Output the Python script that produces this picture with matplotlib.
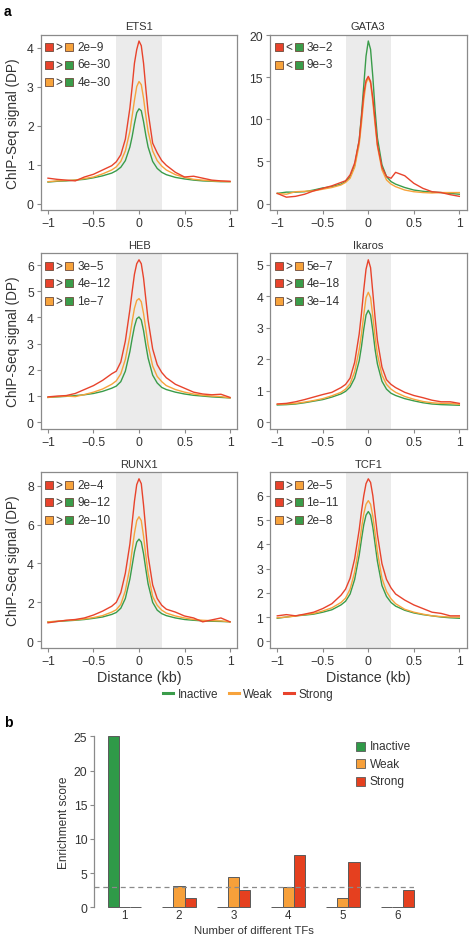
import matplotlib
matplotlib.use("Agg")
import matplotlib.pyplot as plt
from matplotlib.patches import Rectangle
from matplotlib.lines import Line2D
import numpy as np

plt.rcParams['font.family'] = ['Liberation Sans', 'DejaVu Sans']

W, H = 469, 937

# ---------------- data: panel a ----------------
distance = [-1, -0.9, -0.8, -0.7, -0.6, -0.5, -0.4, -0.3, -0.25, -0.2, -0.15, -0.1, -0.075, -0.05, -0.025,
            0, 0.025, 0.05, 0.075, 0.1, 0.15, 0.2, 0.25, 0.3, 0.4, 0.5, 0.6, 0.7, 0.8, 0.9, 1]

ets1_inactive = [0.55, 0.57, 0.58, 0.6, 0.62, 0.66, 0.71, 0.78, 0.84, 0.93, 1.1, 1.45, 1.72, 2.05, 2.33,
                 2.43, 2.38, 2.1, 1.75, 1.45, 1.08, 0.9, 0.8, 0.74, 0.67, 0.63, 0.6, 0.58, 0.57, 0.56, 0.56]
ets1_weak = [0.56, 0.58, 0.59, 0.6, 0.64, 0.68, 0.76, 0.86, 0.94, 1.08, 1.35, 1.85, 2.25, 2.65, 3.0,
             3.13, 3.05, 2.7, 2.25, 1.85, 1.35, 1.1, 0.96, 0.86, 0.74, 0.67, 0.62, 0.6, 0.58, 0.57, 0.56]
ets1_strong = [0.65, 0.62, 0.6, 0.58, 0.68, 0.75, 0.86, 0.97, 1.07, 1.25, 1.65, 2.45, 3.0, 3.6, 3.95,
               4.17, 4.05, 3.6, 2.95, 2.35, 1.55, 1.3, 1.1, 0.98, 0.8, 0.68, 0.7, 0.65, 0.6, 0.58, 0.57]

gata3_inactive = [1.2, 1.35, 1.35, 1.4, 1.6, 1.85, 2.0, 2.3, 2.6, 3.2, 4.5, 7.5, 10.5, 14.0, 17.5,
                  19.3, 18.3, 15.0, 11.0, 7.8, 4.6, 3.2, 2.6, 2.3, 1.9, 1.6, 1.45, 1.35, 1.3, 1.2, 1.1]
gata3_weak = [1.2, 1.1, 1.4, 1.45, 1.5, 1.7, 1.9, 2.2, 2.5, 3.0, 4.3, 7.0, 9.5, 12.3, 14.3,
              14.9, 14.3, 12.0, 9.3, 6.8, 4.0, 2.8, 2.3, 2.0, 1.6, 1.4, 1.3, 1.25, 1.3, 1.3, 1.3]
gata3_strong = [1.2, 0.75, 0.85, 1.1, 1.5, 1.8, 2.1, 2.5, 2.7, 3.4, 4.8, 7.5, 10.2, 13.0, 14.6,
                15.1, 14.5, 12.5, 9.8, 7.0, 4.3, 3.2, 3.0, 3.7, 3.3, 2.4, 1.8, 1.4, 1.3, 1.05, 0.85]

heb_inactive = [0.95, 0.97, 0.99, 1.02, 1.05, 1.1, 1.18, 1.3, 1.38, 1.55, 1.95, 2.7, 3.2, 3.65, 3.95,
                4.02, 3.9, 3.5, 2.95, 2.45, 1.8, 1.5, 1.33, 1.25, 1.15, 1.08, 1.03, 1.0, 0.97, 0.95, 0.93]
heb_weak = [0.95, 0.98, 1.0, 0.98, 1.06, 1.15, 1.27, 1.45, 1.58, 1.85, 2.4, 3.3, 3.85, 4.35, 4.65,
            4.72, 4.6, 4.15, 3.55, 2.95, 2.15, 1.75, 1.55, 1.4, 1.25, 1.15, 1.08, 1.03, 1.0, 0.98, 0.93]
heb_strong = [0.97, 1.0, 1.02, 1.1, 1.25, 1.4, 1.6, 1.85, 1.95, 2.3, 3.1, 4.3, 5.0, 5.65, 6.05,
              6.2, 6.05, 5.5, 4.7, 3.9, 2.8, 2.2, 1.9, 1.7, 1.45, 1.3, 1.15, 1.08, 1.05, 1.07, 0.95]

ikaros_inactive = [0.55, 0.56, 0.58, 0.62, 0.67, 0.72, 0.8, 0.9, 0.98, 1.12, 1.4, 1.95, 2.4, 2.95, 3.4,
                   3.55, 3.4, 2.9, 2.3, 1.85, 1.3, 1.05, 0.92, 0.85, 0.75, 0.68, 0.62, 0.58, 0.56, 0.55, 0.54]
ikaros_weak = [0.57, 0.58, 0.6, 0.64, 0.69, 0.75, 0.84, 0.95, 1.05, 1.22, 1.6, 2.3, 2.8, 3.4, 3.95,
               4.12, 3.95, 3.35, 2.7, 2.15, 1.5, 1.2, 1.05, 0.95, 0.82, 0.73, 0.66, 0.62, 0.6, 0.6, 0.57]
ikaros_strong = [0.58, 0.6, 0.65, 0.72, 0.8, 0.88, 0.95, 1.1, 1.2, 1.4, 1.9, 2.8, 3.45, 4.2, 4.85,
                 5.15, 4.9, 4.1, 3.3, 2.6, 1.75, 1.35, 1.2, 1.1, 0.95, 0.85, 0.78, 0.7, 0.65, 0.65, 0.6]

runx1_inactive = [1.0, 1.02, 1.05, 1.08, 1.12, 1.18, 1.25, 1.38, 1.48, 1.7, 2.2, 3.2, 3.9, 4.6, 5.1,
                  5.25, 5.1, 4.5, 3.7, 2.95, 2.0, 1.6, 1.42, 1.32, 1.2, 1.12, 1.08, 1.05, 1.03, 1.02, 1.0]
runx1_weak = [1.0, 1.03, 1.07, 1.1, 1.15, 1.22, 1.32, 1.5, 1.62, 1.9, 2.6, 3.8, 4.7, 5.55, 6.2,
              6.4, 6.2, 5.4, 4.4, 3.5, 2.3, 1.85, 1.6, 1.45, 1.3, 1.2, 1.12, 1.08, 1.06, 1.05, 1.0]
runx1_strong = [0.95, 1.02, 1.08, 1.12, 1.2, 1.35, 1.55, 1.8, 2.0, 2.5, 3.5, 5.0, 6.1, 7.2, 8.05,
                8.35, 8.1, 7.0, 5.7, 4.4, 2.9, 2.2, 1.85, 1.65, 1.5, 1.3, 1.2, 1.0, 1.1, 1.2, 1.0]

tcf1_inactive = [0.95, 1.0, 1.05, 1.08, 1.12, 1.2, 1.3, 1.5, 1.65, 1.95, 2.55, 3.55, 4.2, 4.8, 5.2,
                 5.35, 5.2, 4.7, 4.0, 3.3, 2.3, 1.85, 1.6, 1.45, 1.28, 1.17, 1.1, 1.05, 1.0, 0.97, 0.95]
tcf1_weak = [0.97, 1.0, 1.04, 1.1, 1.15, 1.25, 1.38, 1.6, 1.78, 2.15, 2.85, 3.95, 4.65, 5.25, 5.65,
             5.8, 5.65, 5.15, 4.45, 3.7, 2.6, 2.05, 1.75, 1.55, 1.32, 1.2, 1.12, 1.05, 1.02, 1.0, 1.0]
tcf1_strong = [1.05, 1.1, 1.05, 1.12, 1.2, 1.35, 1.55, 1.9, 2.15, 2.6, 3.4, 4.6, 5.35, 6.0, 6.5,
               6.7, 6.55, 6.0, 5.2, 4.4, 3.2, 2.55, 2.2, 1.95, 1.7, 1.5, 1.35, 1.2, 1.15, 1.05, 1.05]

tf_names = ["ETS1", "GATA3", "HEB", "Ikaros", "RUNX1", "TCF1"]
tf_curves = [
    (ets1_inactive, ets1_weak, ets1_strong),
    (gata3_inactive, gata3_weak, gata3_strong),
    (heb_inactive, heb_weak, heb_strong),
    (ikaros_inactive, ikaros_weak, ikaros_strong),
    (runx1_inactive, runx1_weak, runx1_strong),
    (tcf1_inactive, tcf1_weak, tcf1_strong),
]
tf_yticks = [[0, 1, 2, 3, 4], [0, 5, 10, 15, 20], [0, 1, 2, 3, 4, 5, 6],
             [0, 1, 2, 3, 4, 5], [0, 2, 4, 6, 8], [0, 1, 2, 3, 4, 5, 6]]
# comparisons: (group A, sign, group B, p-value)
tf_tests = [
    [("S", ">", "W", "2e−9"), ("S", ">", "I", "6e−30"), ("W", ">", "I", "4e−30")],
    [("S", "<", "I", "3e−2"), ("W", "<", "I", "9e−3")],
    [("S", ">", "W", "3e−5"), ("S", ">", "I", "4e−12"), ("W", ">", "I", "1e−7")],
    [("S", ">", "W", "5e−7"), ("S", ">", "I", "4e−18"), ("W", ">", "I", "3e−14")],
    [("S", ">", "W", "2e−4"), ("S", ">", "I", "9e−12"), ("W", ">", "I", "2e−10")],
    [("S", ">", "W", "2e−5"), ("S", ">", "I", "1e−11"), ("W", ">", "I", "2e−8")],
]
series_labels = ["Inactive", "Weak", "Strong"]

# ---------------- data: panel b ----------------
n_tfs = [1, 2, 3, 4, 5, 6]
enrich_inactive = [25.0, 0, 0, 0, 0, 0]
enrich_weak = [0, 3.15, 4.4, 3.0, 1.3, 0.1]
enrich_strong = [0, 1.4, 2.55, 7.7, 6.6, 2.55]
threshold = 3

# ---------------- style ----------------
c_line = {"I": "#3A9C4A", "W": "#F7A33C", "S": "#E8432C"}
c_bar = {"I": "#2F9A48", "W": "#F7A03A", "S": "#E5401F"}
frame_c = "#8a8a8a"
text_c = "#333333"


def fpx(x, y):
    return x / W, 1 - y / H


fig = plt.figure(figsize=(W / 100, H / 100), dpi=100)

col_left = [40.7, 270.0]
col_w = 196.6
row_tops = [35.5, 254.3, 473.3]
row_h = 175.5

for k, name in enumerate(tf_names):
    r, c = divmod(k, 2)
    L, T = col_left[c], row_tops[r]
    ax = fig.add_axes([L / W, 1 - (T + row_h) / H, col_w / W, row_h / H])
    ax.axvspan(-0.25, 0.25, color="#EBEBEB", lw=0, zorder=0)
    inact, weak, strong = tf_curves[k]
    ax.plot(distance, inact, color=c_line["I"], lw=1.0, zorder=2)
    ax.plot(distance, weak, color=c_line["W"], lw=1.0, zorder=3)
    ax.plot(distance, strong, color=c_line["S"], lw=1.0, zorder=4)
    M = max(max(inact), max(weak), max(strong))
    ax.set_ylim(-0.04 * M, 1.04 * M)
    ax.set_xlim(-1.08, 1.08)
    ax.set_xticks([-1, -0.5, 0, 0.5, 1])
    ax.set_xticklabels(["−1", "−0.5", "0", "0.5", "1"])
    ax.set_yticks(tf_yticks[k])
    ax.tick_params(axis="both", colors=frame_c, labelcolor=text_c, labelsize=8.8, length=3, width=0.8, pad=2)
    for s in ax.spines.values():
        s.set_color(frame_c)
        s.set_linewidth(0.9)
    ax.set_title(name, fontsize=8, color=text_c, pad=4)
    if c == 0:
        ax.set_ylabel("ChIP-Seq signal (DP)", fontsize=9.8, color=text_c, labelpad=5)
    if r == 2:
        ax.set_xlabel("Distance (kb)", fontsize=10.3, color=text_c, labelpad=2)
    # significance legend
    sq = 8
    for i, (a, sign, b, p) in enumerate(tf_tests[k]):
        yc = T + 12.5 + 17.5 * i
        for xc, g in ((L + 8.5, a), (L + 28.5, b)):
            x0, y0 = fpx(xc - sq / 2, yc + sq / 2)
            fig.patches.append(Rectangle((x0, y0), sq / W, sq / H, transform=fig.transFigure,
                                         facecolor=c_line[g], edgecolor="#6b4a3a", lw=0.6, zorder=10))
        fig.text(*fpx(L + 18.5, yc), sign, ha="center", va="center", fontsize=8.5, color=text_c)
        fig.text(*fpx(L + 36.5, yc), p, ha="left", va="center", fontsize=8.5, color=text_c)

# line legend
handles = [Line2D([], [], color=c_line[g], lw=2.2) for g in ("I", "W", "S")]
fig.legend(handles, series_labels, loc="center", bbox_to_anchor=fpx(248, 695), ncol=3, frameon=False,
           fontsize=8.5, handlelength=0.9, handletextpad=0.35, columnspacing=0.9, labelcolor=text_c)

fig.text(*fpx(4, 12), "a", fontsize=10, fontweight="bold", ha="left", va="center")
fig.text(*fpx(4, 723), "b", fontsize=10, fontweight="bold", ha="left", va="center")

# ---------------- panel b ----------------
bL, bR, bT, bB = 94.3, 413.7, 737.3, 908.3
axb = fig.add_axes([bL / W, 1 - bB / H, (bR - bL) / W, (bB - bT) / H])
w = 0.205
x = np.array(n_tfs, dtype=float)
for off, vals, g in ((-w, enrich_inactive, "I"), (0, enrich_weak, "W"), (w, enrich_strong, "S")):
    axb.bar(x + off, vals, width=w, color=c_bar[g], edgecolor="#5a5a5a", lw=0.7, clip_on=False, zorder=3)
axb.axhline(threshold, color="#8a8a8a", lw=0.9, ls=(0, (4, 3)), zorder=4)
axb.set_xlim(0.45, 6.3)
axb.set_ylim(0, 25)
axb.set_yticks([0, 5, 10, 15, 20, 25])
axb.set_xticks(n_tfs)
for s in ("top", "right", "bottom"):
    axb.spines[s].set_visible(False)
axb.spines["left"].set_color(frame_c)
axb.spines["left"].set_linewidth(0.9)
axb.tick_params(axis="y", colors=frame_c, labelcolor=text_c, labelsize=8.8, length=3, width=0.8, pad=2)
axb.tick_params(axis="x", length=0, labelcolor=text_c, labelsize=8.4, pad=1.5)
axb.set_ylabel("Enrichment score", fontsize=8.6, color=text_c, labelpad=3)
fig.text(*fpx(253.7, 936.5), "Number of different TFs", fontsize=8.2, color=text_c, ha="center", va="bottom")

for i, g in enumerate(("I", "W", "S")):
    yc = 747.3 + 17.4 * i
    sq = 9
    x0, y0 = fpx(356, yc + sq / 2)
    fig.patches.append(Rectangle((x0, y0), sq / W, sq / H, transform=fig.transFigure,
                                 facecolor=c_bar[g], edgecolor="#5a5a5a", lw=0.6, zorder=10))
    fig.text(*fpx(369.5, yc), series_labels[i], ha="left", va="center", fontsize=8.6, color=text_c)

fig.savefig("out.png", dpi=100)
